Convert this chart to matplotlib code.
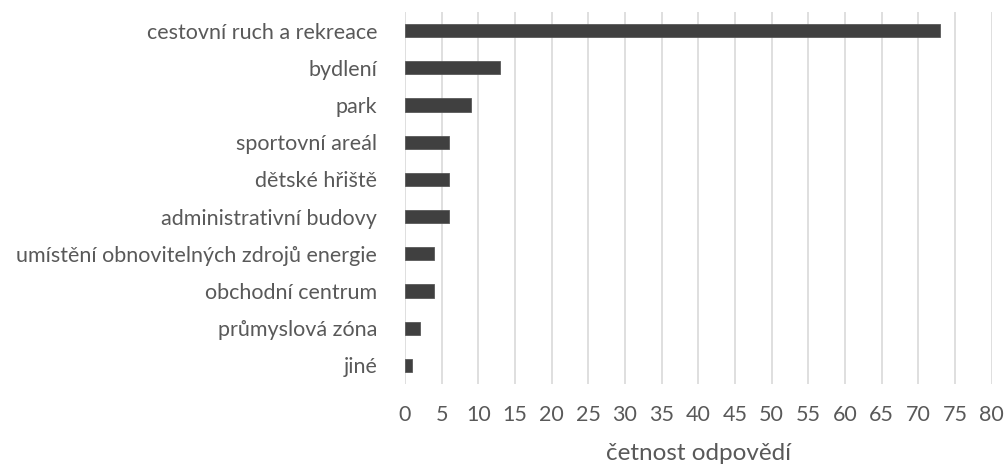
import matplotlib
matplotlib.use("Agg")
import matplotlib.pyplot as plt

categories = ["cestovní ruch a rekreace", "bydlení", "park", "sportovní areál",
              "dětské hřiště", "administrativní budovy",
              "umístění obnovitelných zdrojů energie", "obchodní centrum",
              "průmyslová zóna", "jiné"]
values = [73, 13, 9, 6, 6, 6, 4, 4, 2, 1]
xticks = list(range(0, 81, 5))
xlabel = "četnost odpovědí"

plt.rcParams['font.family'] = ['Lato', 'DejaVu Sans']
txt = '#595959'

fig = plt.figure(figsize=(10.06, 4.65), dpi=100)
ax = fig.add_axes([405/1006, 1-384/465, (991.7-405)/1006, (384-12)/465])

y = list(range(len(categories)))[::-1]
ax.barh(y, values, height=0.35, color='#404040', edgecolor='#595959', linewidth=0.6, zorder=3)
ax.set_ylim(-0.5, len(categories)-0.5)
ax.set_xlim(0, 80)
ax.set_xticks(xticks)
ax.set_yticks(y)
ax.set_yticklabels(categories)
ax.grid(axis='x', color='#d9d9d9', linewidth=1.2, zorder=0)
for s in ax.spines.values():
    s.set_visible(False)
ax.tick_params(axis='both', length=0, labelsize=15.5, labelcolor=txt)
ax.tick_params(axis='y', pad=20)
ax.tick_params(axis='x', pad=15)
ax.set_xlabel(xlabel, fontsize=17.5, color=txt, labelpad=13)

fig.savefig("out.png", dpi=100)
